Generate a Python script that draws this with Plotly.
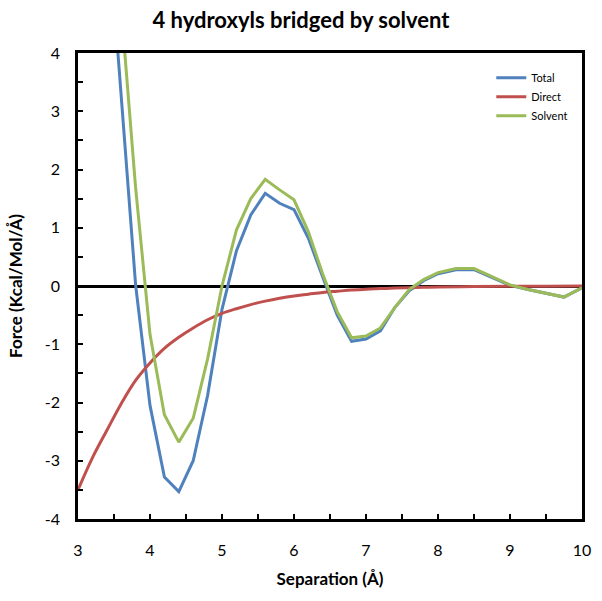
import plotly.graph_objects as go

x_total = [3.4, 3.6, 3.8, 4.0, 4.2, 4.4, 4.6, 4.8, 5.0, 5.2, 5.4, 5.6, 5.8, 6.0, 6.2, 6.4, 6.6,
           6.8, 7.0, 7.2, 7.4, 7.6, 7.8, 8.0, 8.25, 8.5, 8.75, 9.0, 9.25, 9.5, 9.75, 10.0]
total = [6.5, 3.18, 0.02, -2.05, -3.28, -3.53, -3.0, -1.88, -0.4, 0.6, 1.22, 1.59, 1.42, 1.31,
         0.82, 0.15, -0.5, -0.95, -0.91, -0.77, -0.37, -0.08, 0.09, 0.21, 0.28, 0.28, 0.15,
         0.01, -0.06, -0.12, -0.19, -0.03]
solvent = [8.5, 4.77, 1.69, -0.83, -2.21, -2.68, -2.27, -1.25, 0.0, 0.96, 1.5, 1.83, 1.65, 1.48,
           0.93, 0.2, -0.44, -0.89, -0.86, -0.72, -0.37, -0.06, 0.11, 0.23, 0.30, 0.30, 0.16,
           0.02, -0.06, -0.12, -0.19, -0.03]

x_direct = [3.0, 3.2, 3.4, 3.6, 3.8, 4.0, 4.2, 4.4, 4.6, 4.8, 5.0, 5.2, 5.4, 5.6, 5.8, 6.0,
            6.2, 6.4, 6.6, 6.8, 7.0, 7.2, 7.4, 7.6, 7.8, 8.0, 8.5, 9.0, 9.5, 10.0]
direct = [-3.5, -2.95, -2.48, -2.02, -1.62, -1.32, -1.07, -0.88, -0.72, -0.58, -0.47, -0.39,
          -0.32, -0.26, -0.21, -0.17, -0.14, -0.11, -0.09, -0.07, -0.055, -0.045, -0.035,
          -0.028, -0.022, -0.017, -0.01, -0.006, -0.004, -0.002]

x_ticks = [3, 3.5, 4, 4.5, 5, 5.5, 6, 6.5, 7, 7.5, 8, 8.5, 9, 9.5, 10]
x_labels = ["3", "", "4", "", "5", "", "6", "", "7", "", "8", "", "9", "", "10"]
y_ticks = [-4, -3.5, -3, -2.5, -2, -1.5, -1, -0.5, 0, 0.5, 1, 1.5, 2, 2.5, 3, 3.5, 4]
y_labels = ["-4", "", "-3", "", "-2", "", "-1", "", "0", "", "1", "", "2", "", "3", "", "4"]

FONT = "Lato, 'Open Sans', sans-serif"

fig = go.Figure()
fig.add_trace(go.Scatter(x=x_total, y=total, mode="lines", name="Total",
                         line=dict(color="#4F81BD", width=3)))
fig.add_trace(go.Scatter(x=x_direct, y=direct, mode="lines", name="Direct",
                         line=dict(color="#C0504D", width=3, shape="spline")))
fig.add_trace(go.Scatter(x=x_total, y=solvent, mode="lines", name="Solvent",
                         line=dict(color="#9BBB59", width=3)))

axis_common = dict(showline=True, linecolor="black", linewidth=2.5, mirror=True,
                   ticks="inside", ticklen=5, tickwidth=2, tickcolor="black",
                   showgrid=False, automargin=False,
                   tickfont=dict(size=16, color="black", family=FONT))

fig.update_layout(
    width=602, height=601,
    margin=dict(l=78, r=20, t=53, b=82),
    paper_bgcolor="white", plot_bgcolor="white",
    font=dict(family=FONT, color="black"),
    title=dict(text="<b>4 hydroxyls bridged by solvent</b>", x=0.5, xanchor="center",
               y=0.966, yanchor="middle", font=dict(size=22, color="black", family=FONT)),
    xaxis=dict(range=[3, 10], tickvals=x_ticks, ticktext=x_labels, zeroline=False,
               ticklabelstandoff=15,
               title=dict(text="<b>Separation (Å)</b>", font=dict(size=17, family=FONT),
                          standoff=16),
               **axis_common),
    yaxis=dict(range=[-4, 4], tickvals=y_ticks, ticktext=y_labels, zeroline=True,
               zerolinecolor="black", zerolinewidth=2.5, ticklabelstandoff=12,
               title=dict(text="<b>Force (Kcal/Mol/Å)</b>", font=dict(size=17, family=FONT),
                          standoff=18),
               **axis_common),
    legend=dict(x=0.82, y=0.978, xanchor="left", yanchor="top", bgcolor="rgba(0,0,0,0)",
                font=dict(size=11, color="black", family=FONT), tracegroupgap=0,
                itemwidth=30),
    showlegend=True,
)

fig.write_html("out.html", config={"displayModeBar": False},
               post_script="document.body.style.margin='0';")
